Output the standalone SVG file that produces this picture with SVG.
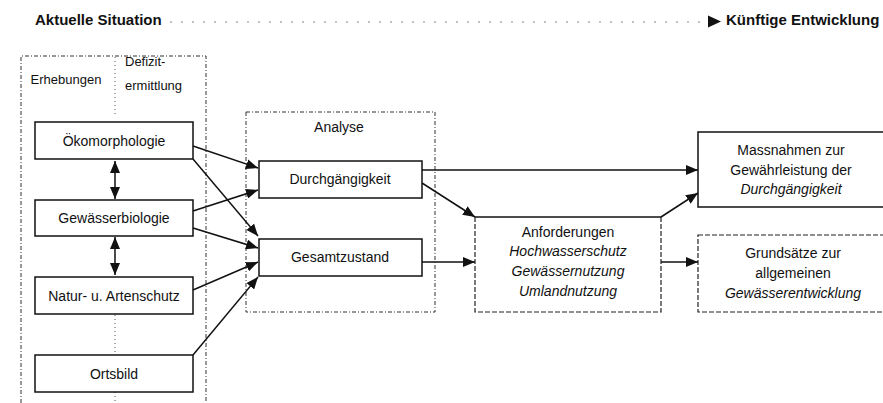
<svg xmlns="http://www.w3.org/2000/svg" width="883" height="403" viewBox="0 0 883 403">
  <defs>
    <marker id="head" viewBox="0 0 12 10" refX="12" refY="5" markerWidth="12" markerHeight="10" markerUnits="userSpaceOnUse" orient="auto">
      <path d="M0,0 L12,5 L0,10 z" fill="#111"/>
    </marker>
    <marker id="headStart" viewBox="0 0 12 10" refX="12" refY="5" markerWidth="12" markerHeight="10" markerUnits="userSpaceOnUse" orient="auto-start-reverse">
      <path d="M0,0 L12,5 L0,10 z" fill="#111"/>
    </marker>
  </defs>
  <style>
    text { font-family: "Liberation Sans", Arial, sans-serif; font-size: 14px; fill: #111; }
    .head { font-weight: bold; font-size: 15px; }
    .small { font-size: 13px; }
    .c { text-anchor: middle; }
    .it { font-style: italic; }
    .box { fill: #fff; stroke: #111; stroke-width: 1.5; }
    .dbox { fill: #fff; stroke: #222; stroke-width: 1.2; stroke-dasharray: 5 2; }
    .frame { fill: none; stroke: #333; stroke-width: 1; stroke-dasharray: 4 2 1 2; }
    .dots { fill: none; stroke: #555; stroke-width: 1; stroke-dasharray: 1 3; }
    .conn { fill: none; stroke: #111; stroke-width: 1.5; marker-end: url(#head); }
    .dbl { fill: none; stroke: #111; stroke-width: 1.5; marker-start: url(#headStart); marker-end: url(#head); }
  </style>

  <rect width="883" height="403" fill="#fff"/>

  <!-- title line: current situation to future development -->
  <g id="timeline">
    <text class="head" x="35" y="25">Aktuelle Situation</text>
    <line x1="170" y1="22" x2="706" y2="22" stroke="#888" stroke-width="1" stroke-dasharray="2 9"/>
    <path d="M708,15.5 L721,21.5 L708,27.5 z" fill="#111"/>
    <text class="head" x="726" y="25">Künftige Entwicklung</text>
  </g>

  <!-- survey / deficit frame -->
  <g id="frame-erhebungen">
    <path class="frame" d="M21,403 L21,56 L206,56 L206,403"/>
    <line class="dots" x1="115" y1="57" x2="115" y2="115"/>
    <line class="dots" x1="115" y1="315" x2="115" y2="355"/>
    <line class="dots" x1="115" y1="392" x2="115" y2="403"/>
    <text class="small c" x="66" y="84">Erhebungen</text>
    <text class="small" x="125" y="66">Defizit-</text>
    <text class="small" x="125" y="90">ermittlung</text>
  </g>

  <g id="frame-analyse">
    <rect class="frame" x="246" y="112" width="189" height="200"/>
    <text class="c" x="339" y="132">Analyse</text>
  </g>

  <g id="node-oekomorphologie">
    <rect class="box" x="35" y="122" width="158" height="37"/>
    <text class="c" x="114" y="145.5">Ökomorphologie</text>
  </g>
  <g id="node-gewaesserbiologie">
    <rect class="box" x="35" y="200" width="158" height="36"/>
    <text class="c" x="114" y="223">Gewässerbiologie</text>
  </g>
  <g id="node-naturschutz">
    <rect class="box" x="35" y="277" width="158" height="37"/>
    <text class="c" x="114" y="300.5">Natur- u. Artenschutz</text>
  </g>
  <g id="node-ortsbild">
    <rect class="box" x="35" y="355" width="158" height="37"/>
    <text class="c" x="114" y="378.5">Ortsbild</text>
  </g>

  <g id="node-durchgaengigkeit">
    <rect class="box" x="259" y="161" width="163" height="37"/>
    <text class="c" x="340" y="184">Durchgängigkeit</text>
  </g>
  <g id="node-gesamtzustand">
    <rect class="box" x="259" y="239" width="163" height="37"/>
    <text class="c" x="340" y="262">Gesamtzustand</text>
  </g>

  <g id="node-anforderungen">
    <path class="dbox" d="M475,217 L475,312 L661,312 L661,217"/>
    <line x1="475" y1="217" x2="661" y2="217" stroke="#111" stroke-width="1.5"/>
    <text class="c" x="568" y="236.5">Anforderungen</text>
    <text class="c it" x="568" y="256">Hochwasserschutz</text>
    <text class="c it" x="568" y="276">Gewässernutzung</text>
    <text class="c it" x="568" y="296">Umlandnutzung</text>
  </g>

  <g id="node-massnahmen">
    <rect class="box" x="698" y="132" width="190" height="75" stroke-width="1.2"/>
    <text class="c" x="791" y="155">Massnahmen zur</text>
    <text class="c" x="791" y="174.5">Gewährleistung der</text>
    <text class="c it" x="791" y="194">Durchgängigkeit</text>
  </g>
  <g id="node-grundsaetze">
    <rect class="dbox" x="698" y="235" width="190" height="77"/>
    <text class="c" x="793" y="258">Grundsätze zur</text>
    <text class="c" x="793" y="278">allgemeinen</text>
    <text class="c it" x="793" y="298">Gewässerentwicklung</text>
  </g>

  <g id="connectors">
    <line class="dbl" x1="115" y1="161" x2="115" y2="199"/>
    <line class="dbl" x1="115" y1="237" x2="115" y2="275"/>
    <line class="conn" x1="193" y1="146" x2="258" y2="168"/>
    <line class="conn" x1="193" y1="159" x2="258" y2="236"/>
    <line class="conn" x1="193" y1="211" x2="258" y2="190"/>
    <line class="conn" x1="193" y1="228" x2="258" y2="248"/>
    <line class="conn" x1="193" y1="290" x2="258" y2="262"/>
    <line class="conn" x1="193" y1="355" x2="258" y2="277"/>
    <line class="conn" x1="422" y1="170" x2="698" y2="170"/>
    <line class="conn" x1="422" y1="183" x2="475" y2="217"/>
    <line class="conn" x1="422" y1="262" x2="475" y2="262"/>
    <line class="conn" x1="661" y1="217" x2="698" y2="193"/>
    <line class="conn" x1="661" y1="262" x2="698" y2="262"/>
  </g>
</svg>
